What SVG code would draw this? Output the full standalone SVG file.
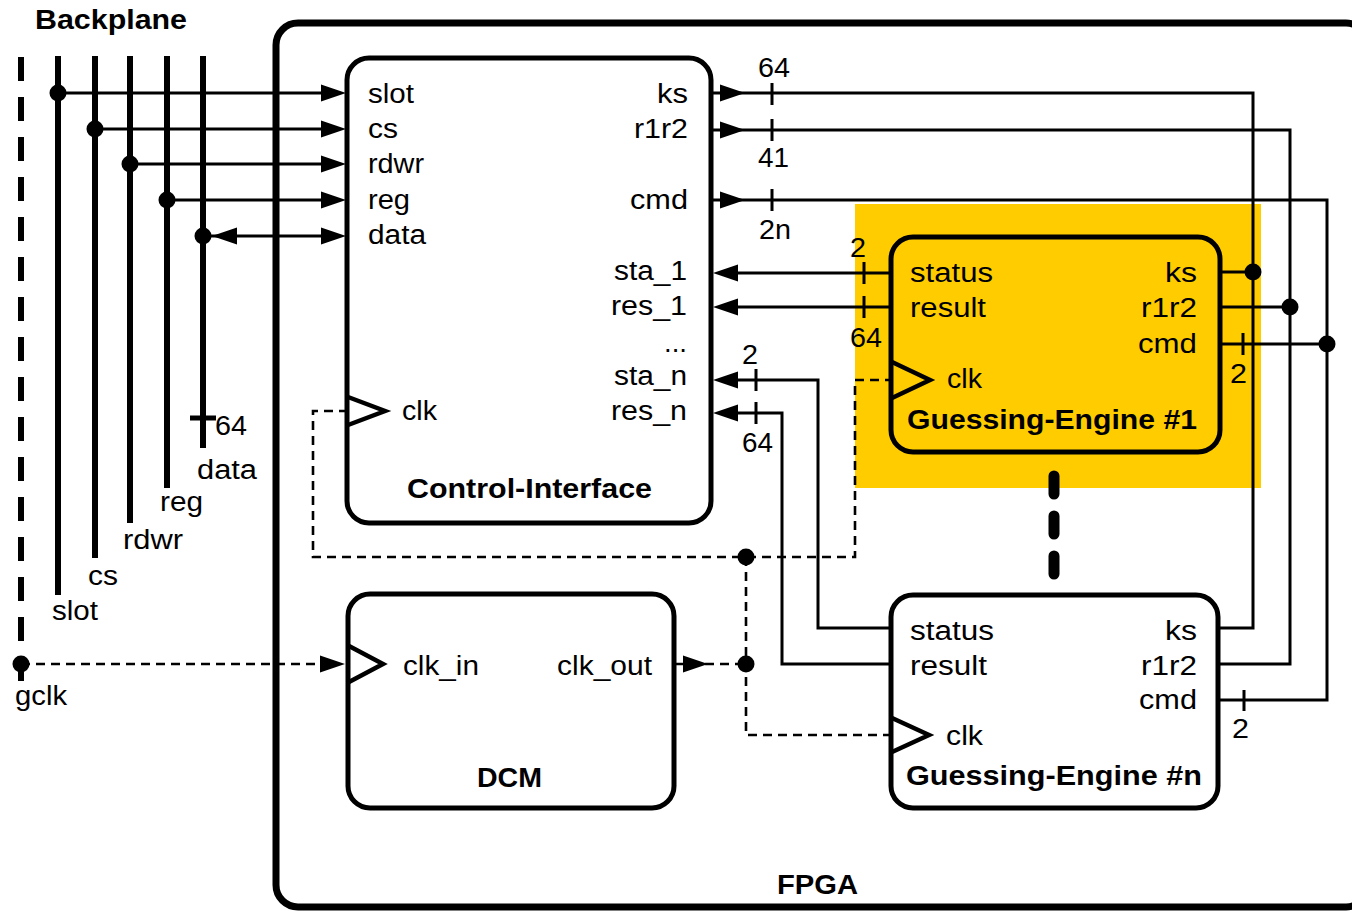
<svg xmlns="http://www.w3.org/2000/svg" xmlns:xlink="http://www.w3.org/1999/xlink" width="1352" height="911" viewBox="0 0 1352 911">
<style>
.t{font-family:"Liberation Sans",Arial,sans-serif;font-size:27px;fill:#000}
.b{font-weight:bold}
.box{fill:#fff;stroke:#000;stroke-width:5}
.w{fill:none;stroke:#000;stroke-width:3}
.bus{fill:none;stroke:#000;stroke-width:6}
.tk{fill:none;stroke:#000;stroke-width:3}
.clk{fill:none;stroke:#000;stroke-width:2.6;stroke-dasharray:9 6}
.tri{fill:none;stroke:#000;stroke-width:4.5;stroke-linejoin:miter}
.dot{fill:#000}
</style>
<defs>
<path id="ah" d="M0,0 L-25,-8.5 L-25,8.5 Z" fill="#000"/>
</defs>
<rect width="1352" height="911" fill="#fff"/>

<g id="fpga">
<rect x="276" y="23" width="1092" height="884" rx="22" fill="none" stroke="#000" stroke-width="7"/>
<text class="t b" x="777" y="894" textLength="81" lengthAdjust="spacingAndGlyphs">FPGA</text>
</g>

<g id="highlight">
<rect x="855" y="204" width="406" height="284" fill="#FFCC00"/>
</g>

<g id="backplane">
<text class="t b" x="35" y="29" textLength="152" lengthAdjust="spacingAndGlyphs">Backplane</text>
<path d="M21,57 V683" fill="none" stroke="#000" stroke-width="6" stroke-dasharray="24 16"/>
<path class="bus" d="M58,56 V595"/>
<path class="bus" d="M95,56 V558"/>
<path class="bus" d="M130,56 V523"/>
<path class="bus" d="M167,56 V488"/>
<path class="bus" d="M203,56 V448"/>
<path d="M190,418 H216" stroke="#000" stroke-width="5"/>
<text class="t" x="52" y="620" textLength="46" lengthAdjust="spacingAndGlyphs">slot</text>
<text class="t" x="88" y="585" textLength="30" lengthAdjust="spacingAndGlyphs">cs</text>
<text class="t" x="123" y="549" textLength="60" lengthAdjust="spacingAndGlyphs">rdwr</text>
<text class="t" x="160" y="511" textLength="43" lengthAdjust="spacingAndGlyphs">reg</text>
<text class="t" x="197" y="479" textLength="60" lengthAdjust="spacingAndGlyphs">data</text>
<text class="t" x="215" y="435" textLength="32" lengthAdjust="spacingAndGlyphs">64</text>
<text class="t" x="15" y="705" textLength="52" lengthAdjust="spacingAndGlyphs">gclk</text>
</g>

<g id="connectors">
<path class="w" d="M58,93 H330"/>
<path class="w" d="M95,129 H330"/>
<path class="w" d="M130,164 H330"/>
<path class="w" d="M167,200 H330"/>
<path class="w" d="M203,236 H330"/>
<path class="w" d="M712,93 H1253 V628 H1218"/>
<path class="w" d="M712,130 H1290 V664 H1218"/>
<path class="w" d="M712,200 H1327 V700 H1218"/>
<path class="w" d="M1220,272 H1253"/>
<path class="w" d="M1220,307 H1290"/>
<path class="w" d="M1220,344 H1327"/>
<path class="w" d="M891,273 H725"/>
<path class="w" d="M891,307 H725"/>
<path class="w" d="M725,380 H818 V628 H891"/>
<path class="w" d="M725,413 H782 V664 H891"/>
<path class="tk" d="M772,83 V105 M772,119 V141 M772,189 V211 M864,262 V284 M864,296 V318 M756,369 V391 M756,402 V424 M1243,333 V355 M1244,690 V711"/>
<path class="clk" d="M21,664 H330"/>
<path class="clk" d="M675,664 H746"/>
<path class="clk" d="M746,557 V735 H891"/>
<path class="clk" d="M348,411 H313 V557 H855 V380 H891"/>
<use xlink:href="#ah" transform="translate(346,93)"/>
<use xlink:href="#ah" transform="translate(346,129)"/>
<use xlink:href="#ah" transform="translate(346,164)"/>
<use xlink:href="#ah" transform="translate(346,200)"/>
<use xlink:href="#ah" transform="translate(346,236)"/>
<use xlink:href="#ah" transform="translate(212,236) rotate(180)"/>
<use xlink:href="#ah" transform="translate(745,93)"/>
<use xlink:href="#ah" transform="translate(745,130)"/>
<use xlink:href="#ah" transform="translate(745,200)"/>
<use xlink:href="#ah" transform="translate(713,273) rotate(180)"/>
<use xlink:href="#ah" transform="translate(713,307) rotate(180)"/>
<use xlink:href="#ah" transform="translate(713,380) rotate(180)"/>
<use xlink:href="#ah" transform="translate(713,413) rotate(180)"/>
<use xlink:href="#ah" transform="translate(345,664)"/>
<use xlink:href="#ah" transform="translate(708,664)"/>
<circle class="dot" cx="58" cy="93" r="8.5"/>
<circle class="dot" cx="95" cy="129" r="8.5"/>
<circle class="dot" cx="130" cy="164" r="8.5"/>
<circle class="dot" cx="167" cy="200" r="8.5"/>
<circle class="dot" cx="203" cy="236" r="8.5"/>
<circle class="dot" cx="21" cy="664" r="8.5"/>
<circle class="dot" cx="746" cy="557" r="8.5"/>
<circle class="dot" cx="746" cy="664" r="8.5"/>
<circle class="dot" cx="1253" cy="272" r="8.5"/>
<circle class="dot" cx="1290" cy="307" r="8.5"/>
<circle class="dot" cx="1327" cy="344" r="8.5"/>
<path d="M1054,476 V494 M1054,516 V534 M1054,556 V574" stroke="#000" stroke-width="11" stroke-linecap="round"/>
<text class="t" x="758" y="77" textLength="32" lengthAdjust="spacingAndGlyphs">64</text>
<text class="t" x="758" y="167" textLength="31" lengthAdjust="spacingAndGlyphs">41</text>
<text class="t" x="759" y="239" textLength="32" lengthAdjust="spacingAndGlyphs">2n</text>
<text class="t" x="850" y="257" textLength="16" lengthAdjust="spacingAndGlyphs">2</text>
<text class="t" x="850" y="347" textLength="32" lengthAdjust="spacingAndGlyphs">64</text>
<text class="t" x="742" y="364" textLength="16" lengthAdjust="spacingAndGlyphs">2</text>
<text class="t" x="742" y="452" textLength="31" lengthAdjust="spacingAndGlyphs">64</text>
<text class="t" x="1230" y="383" textLength="17" lengthAdjust="spacingAndGlyphs">2</text>
<text class="t" x="1232" y="738" textLength="17" lengthAdjust="spacingAndGlyphs">2</text>
</g>

<g id="control-interface">
<rect class="box" x="347" y="58" width="364" height="465" rx="22"/>
<polyline class="tri" points="348,397 385,411 348,425"/>
<text class="t" x="368" y="103" textLength="46" lengthAdjust="spacingAndGlyphs">slot</text>
<text class="t" x="368" y="138" textLength="30" lengthAdjust="spacingAndGlyphs">cs</text>
<text class="t" x="368" y="173" textLength="56" lengthAdjust="spacingAndGlyphs">rdwr</text>
<text class="t" x="368" y="209" textLength="42" lengthAdjust="spacingAndGlyphs">reg</text>
<text class="t" x="368" y="244" textLength="58" lengthAdjust="spacingAndGlyphs">data</text>
<text class="t" x="657" y="103" textLength="31" lengthAdjust="spacingAndGlyphs">ks</text>
<text class="t" x="634" y="138" textLength="54" lengthAdjust="spacingAndGlyphs">r1r2</text>
<text class="t" x="630" y="209" textLength="58" lengthAdjust="spacingAndGlyphs">cmd</text>
<text class="t" x="614" y="280" textLength="73" lengthAdjust="spacingAndGlyphs">sta_1</text>
<text class="t" x="611" y="315" textLength="76" lengthAdjust="spacingAndGlyphs">res_1</text>
<text class="t" x="664" y="352" textLength="23" lengthAdjust="spacingAndGlyphs">...</text>
<text class="t" x="614" y="385" textLength="73" lengthAdjust="spacingAndGlyphs">sta_n</text>
<text class="t" x="611" y="420" textLength="76" lengthAdjust="spacingAndGlyphs">res_n</text>
<text class="t" x="402" y="420" textLength="35" lengthAdjust="spacingAndGlyphs">clk</text>
<text class="t b" x="407" y="498" textLength="245" lengthAdjust="spacingAndGlyphs">Control-Interface</text>
</g>

<g id="dcm">
<rect class="box" x="348" y="594" width="326" height="214" rx="22"/>
<polyline class="tri" points="349,646 383,664 349,682"/>
<text class="t" x="403" y="675" textLength="76" lengthAdjust="spacingAndGlyphs">clk_in</text>
<text class="t" x="557" y="675" textLength="95" lengthAdjust="spacingAndGlyphs">clk_out</text>
<text class="t b" x="477" y="787" textLength="65" lengthAdjust="spacingAndGlyphs">DCM</text>
</g>

<g id="guessing-engine-1">
<rect x="891" y="237" width="329" height="215" rx="22" fill="none" stroke="#000" stroke-width="5"/>
<polyline class="tri" points="892,362 930,380 892,398"/>
<text class="t" x="910" y="282" textLength="83" lengthAdjust="spacingAndGlyphs">status</text>
<text class="t" x="910" y="317" textLength="76" lengthAdjust="spacingAndGlyphs">result</text>
<text class="t" x="1165" y="282" textLength="32" lengthAdjust="spacingAndGlyphs">ks</text>
<text class="t" x="1141" y="317" textLength="56" lengthAdjust="spacingAndGlyphs">r1r2</text>
<text class="t" x="1138" y="353" textLength="59" lengthAdjust="spacingAndGlyphs">cmd</text>
<text class="t" x="947" y="388" textLength="35" lengthAdjust="spacingAndGlyphs">clk</text>
<text class="t b" x="907" y="429" textLength="290" lengthAdjust="spacingAndGlyphs">Guessing-Engine #1</text>
</g>

<g id="guessing-engine-n">
<rect class="box" x="891" y="595" width="327" height="213" rx="22"/>
<polyline class="tri" points="892,718 929,735 892,752"/>
<text class="t" x="910" y="640" textLength="84" lengthAdjust="spacingAndGlyphs">status</text>
<text class="t" x="910" y="675" textLength="77" lengthAdjust="spacingAndGlyphs">result</text>
<text class="t" x="1165" y="640" textLength="32" lengthAdjust="spacingAndGlyphs">ks</text>
<text class="t" x="1141" y="675" textLength="56" lengthAdjust="spacingAndGlyphs">r1r2</text>
<text class="t" x="1139" y="709" textLength="58" lengthAdjust="spacingAndGlyphs">cmd</text>
<text class="t" x="946" y="745" textLength="37" lengthAdjust="spacingAndGlyphs">clk</text>
<text class="t b" x="906" y="785" textLength="296" lengthAdjust="spacingAndGlyphs">Guessing-Engine #n</text>
</g>
</svg>
